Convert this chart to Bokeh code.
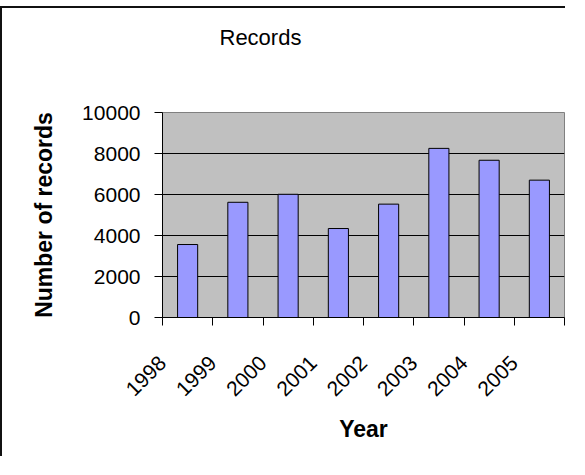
import numpy as np
import math
from bokeh.plotting import figure
from bokeh.models import Range1d, FixedTicker, NumeralTickFormatter, Title
from bokeh.embed import file_html
from bokeh.resources import INLINE

# ---- data ----
years = ["1998", "1999", "2000", "2001", "2002", "2003", "2004", "2005"]
records = [3560, 5620, 6010, 4340, 5530, 8250, 7670, 6700]
y_ticks = [0, 2000, 4000, 6000, 8000, 10000]
grid_ticks = [2000, 4000, 6000, 8000]

FONT = "Liberation Sans"

n = len(years)
centers = list(np.arange(n) + 0.5)
bounds = list(range(n + 1))

p = figure(width=565, height=450, output_backend="svg", toolbar_location=None,
           x_range=Range1d(0, n), y_range=Range1d(0, 10000),
           min_border_left=160, min_border_right=3, min_border_top=104,
           min_border_bottom=141)
p.styles = {"border-left": "2px solid #111111", "border-top": "2px solid #111111",
            "margin-top": "6px"}

p.background_fill_color = "#C0C0C0"
p.border_fill_color = "white"
p.outline_line_color = "#808080"
p.outline_line_width = 1

p.vbar(x=centers, top=records, width=0.4, bottom=0,
       fill_color="#9999FF", line_color="black", line_width=1)

# title (trailing blank lines lift it above the plot area)
p.title = Title(text="Records\n\n", align="left", offset=57, standoff=22,
                vertical_align="top",
                text_font=FONT, text_font_size="22px", text_font_style="normal",
                text_color="black")

# x axis: ticks on category boundaries, each year label hung from its left boundary
xa = p.xaxis[0]
xa.ticker = FixedTicker(ticks=bounds)
overrides = {b: "" for b in bounds}
overrides.update({b: y for b, y in zip(bounds, years)})
xa.major_label_overrides = overrides
xa.major_label_orientation = math.pi / 4
xa.major_tick_out = 8
xa.major_tick_in = 0
xa.minor_tick_out = 0
xa.minor_tick_in = 0
xa.major_tick_line_color = "black"
xa.axis_line_color = "black"
xa.major_label_text_font = FONT
xa.major_label_text_font_size = "21px"
xa.major_label_text_color = "black"
xa.major_label_standoff = 34
xa.axis_label = "Year"
xa.axis_label_text_font = FONT
xa.axis_label_text_font_size = "23px"
xa.axis_label_text_font_style = "bold"
xa.axis_label_text_color = "black"
xa.axis_label_standoff = 11

# y axis
ya = p.yaxis[0]
ya.ticker = FixedTicker(ticks=y_ticks)
ya.formatter = NumeralTickFormatter(format="0")
ya.major_tick_out = 8
ya.major_tick_in = 0
ya.minor_tick_out = 0
ya.minor_tick_in = 0
ya.axis_line_color = "black"
ya.major_tick_line_color = "black"
ya.major_label_text_font = FONT
ya.major_label_text_font_size = "21px"
ya.major_label_text_color = "black"
ya.major_label_standoff = 14
ya.axis_label = "Number of records"
ya.axis_label_text_font = FONT
ya.axis_label_text_font_size = "23px"
ya.axis_label_text_font_style = "bold"
ya.axis_label_text_color = "black"
ya.axis_label_standoff = 22

p.xgrid.visible = False
p.ygrid.ticker = FixedTicker(ticks=grid_ticks)
p.ygrid.grid_line_color = "black"
p.ygrid.grid_line_alpha = 1.0

open("out.html", "w").write(file_html(p, INLINE))
